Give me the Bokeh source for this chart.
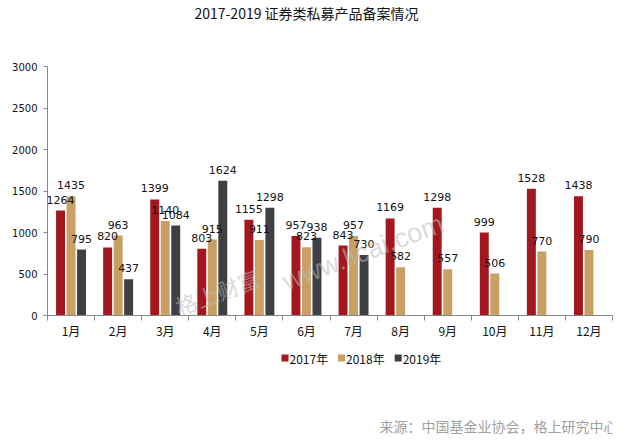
import numpy as np
from bokeh.plotting import figure
from bokeh.layouts import column
from bokeh.models import (ColumnDataSource, FixedTicker, SingleIntervalTicker,
                          Label, LabelSet)
from bokeh.core.properties import value
from bokeh.embed import file_html
from bokeh.resources import INLINE

months = ["1月", "2月", "3月", "4月", "5月", "6月",
          "7月", "8月", "9月", "10月", "11月", "12月"]
series_names = ["2017年", "2018年", "2019年"]
v2017 = [1264, 820, 1399, 803, 1155, 957, 843, 1169, 1298, 999, 1528, 1438]
v2018 = [1435, 963, 1140, 915, 911, 823, 957, 582, 557, 506, 770, 790]
v2019 = [795, 437, 1084, 1624, 1298, 938, 730]
colors = ["#A3181F", "#C9A064", "#3E4046"]

title_text = "2017-2019 证券类私募产品备案情况"
source_text = "来源：中国基金业协会，格上研究中心"
watermark_cn = "格上财富"
watermark_en = "www.licai.com"

CJK = "Noto Sans CJK SC"
NUM = "DejaVu Sans"
W = 628
LEFT, RIGHT = 47, 16   # plot borders; the column lines all frames up with these


def blank(height):
    """A strip with no axes whose x range is in page pixels."""
    f = figure(width=W, height=height, x_range=(LEFT, W - RIGHT),
               y_range=(0, height), output_backend="svg",
               toolbar_location=None, min_border_left=LEFT,
               min_border_right=RIGHT, min_border_top=0, min_border_bottom=0,
               x_axis_type=None, y_axis_type=None)
    f.grid.visible = False
    f.outline_line_color = None
    return f


# ---- header: chart title
head = blank(40)
head.text(x=[306], y=[28], text=[title_text], text_align="center",
          text_baseline="middle", text_font=value(CJK),
          text_font_size="14px", text_color="#111111")

# ---- main chart
p = figure(width=W, height=305, x_range=(0, 12), y_range=(0, 3000),
           output_backend="svg", toolbar_location=None,
           min_border_left=LEFT, min_border_right=RIGHT,
           min_border_top=26, min_border_bottom=30)
p.grid.visible = False
p.outline_line_color = None

centers = np.arange(len(months)) + 0.5
offsets = [-0.223, 0.0, 0.223]
bar_w = 0.19
for vals, off, col in zip([v2017, v2018, v2019], offsets, colors):
    n = len(vals)
    src = ColumnDataSource(dict(x=centers[:n] + off, top=vals,
                                lab=[str(v) for v in vals]))
    p.vbar(x="x", top="top", width=bar_w, bottom=0, source=src,
           fill_color=col, line_color=None)
    p.add_layout(LabelSet(x="x", y="top", text="lab", source=src,
                          text_align="center", text_baseline="bottom",
                          y_offset=7, text_font=value(NUM),
                          text_font_size=value("11px"),
                          text_color="#111111"))

# month names under slot centres, tick marks on slot boundaries
xa = p.xaxis[0]
xa.ticker = FixedTicker(ticks=list(centers),
                        minor_ticks=list(np.arange(len(months) + 1)))
xa.major_label_overrides = {float(c): m for c, m in zip(centers, months)}
xa.major_tick_out = 0
xa.major_tick_in = 0
xa.minor_tick_out = 5
xa.minor_tick_in = 0
xa.minor_tick_line_color = "#888888"
xa.axis_line_color = "#888888"
xa.major_label_text_font = CJK
xa.major_label_text_font_size = "12px"
xa.major_label_text_color = "#111111"
xa.major_label_standoff = 1

ya = p.yaxis[0]
ya.ticker = SingleIntervalTicker(interval=500, num_minor_ticks=0)
ya.major_tick_out = 4
ya.major_tick_in = 0
ya.minor_tick_out = 0
ya.major_tick_line_color = "#888888"
ya.axis_line_color = "#888888"
ya.major_label_text_font = NUM
ya.major_label_text_font_size = "10px"
ya.major_label_text_color = "#111111"
ya.major_label_standoff = 6

# faint watermark across the bars
p.add_layout(Label(x=3.6, y=290, text=watermark_cn, angle=0.36,
                   text_align="center", text_baseline="middle",
                   text_font=CJK, text_font_size="22px",
                   text_color="#BBBBBB", text_alpha=0.55))
p.add_layout(Label(x=6.7, y=760, text=watermark_en, angle=0.36,
                   text_align="center", text_baseline="middle",
                   text_font="Liberation Sans", text_font_size="27px",
                   text_color="#BBBBBB", text_alpha=0.55))

# ---- footer: legend and source note
foot = blank(97)
key_x = np.array([284.5, 341.0, 397.7])
foot.rect(x=key_x, y=[84.5] * 3, width=7, height=7,
          fill_color=colors, line_color=None)
foot.text(x=key_x + 4.5, y=[84.5] * 3, text=series_names,
          text_align="left", text_baseline="middle", text_font=value(CJK),
          text_font_size="12px", text_color="#111111")
foot.text(x=[617], y=[16.5], text=[source_text], text_align="right",
          text_baseline="middle", text_font=value(CJK),
          text_font_size="14px", text_color="#A0A0A0")

layout = column(head, p, foot, spacing=0)
open("out.html", "w").write(file_html(layout, INLINE))
